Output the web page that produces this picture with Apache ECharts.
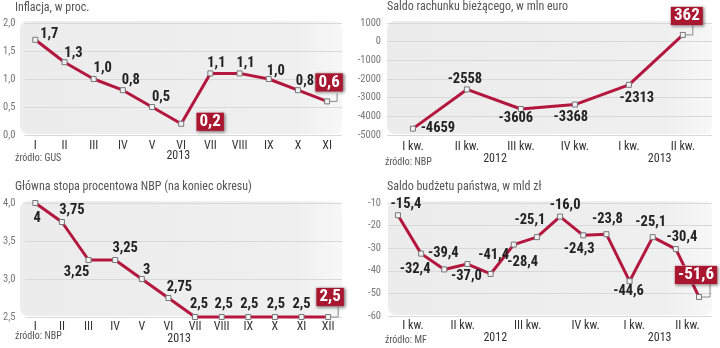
<!DOCTYPE html>
<html>
<head>
<meta charset="utf-8">
<script src="https://cdn.jsdelivr.net/npm/echarts@6/dist/echarts.min.js"></script>
<style>
html,body{margin:0;padding:0;background:#fff;}
#c{width:720px;height:348px;}
</style>
</head>
<body>
<div id="c"></div>
<script>
// ---------- DATA ----------
const inflMonths = ['I','II','III','IV','V','VI','VII','VIII','IX','X','XI'];
const inflValues = [1.7,1.3,1.0,0.8,0.5,0.2,1.1,1.1,1.0,0.8,0.6];
const inflYears = ['2013'];
const inflTicks = [0,0.5,1.0,1.5,2.0];

const caQuarters = ['I kw.','II kw.','III kw.','IV kw.','I kw.','II kw.'];
const caValues = [-4659,-2558,-3606,-3368,-2313,362];
const caYears = ['2012','2013'];
const caTicks = [-5000,-4000,-3000,-2000,-1000,0,1000];

const rateMonths = ['I','II','III','IV','V','VI','VII','VIII','IX','X','XI','XII'];
const rateValues = [4,3.75,3.25,3.25,3,2.75,2.5,2.5,2.5,2.5,2.5,2.5];
const rateYears = ['2013'];
const rateTicks = [2.5,3.0,3.5,4.0];

const budgetQuarters = ['I kw.','II kw.','III kw.','IV kw.','I kw.','II kw.'];
const budgetValues = [-15.4,-32.4,-39.4,-37.0,-41.4,-28.4,-25.1,-16.0,-24.3,-23.8,-44.6,-25.1,-30.4,-51.6];
const budgetYears = ['2012','2013'];
const budgetTicks = [-60,-50,-40,-30,-20,-10];

// ---------- LAYOUT / STYLE ----------
const FONT = "'Roboto Condensed','Open Sans Condensed','Liberation Sans',sans-serif";
const LINE = '#b3173f';
const BOX = '#a8162f';

// axis positions (in data-index units) for category-like labels
const inflLabelPos = inflMonths.map((_, i) => i);
const inflYearPos = [4.9];
const caLabelPos = caQuarters.map((_, i) => i);
const caYearPos = [1.52, 4.57];
const rateLabelPos = rateMonths.map((_, i) => i);
const rateYearPos = [5.4];
const budgetLabelPos = [0.65, 2.8, 5.6, 8.1, 10.2, 12.5];
const budgetYearPos = [4.2, 11.3];

const panels = [
  { title:'Inflacja, w proc.', src:'źródło: GUS', tl:[15,2], sl:[15,153],
    grid:{left:20, top:23, width:322, height:112}, xmin:-0.372, xmax:10.51,
    ymin:0, ymax:2, interval:0.5, yMargin:9, yFmt:v=>v.toFixed(1).replace('.',','),
    values:inflValues, labels:inflMonths, labelPos:inflLabelPos, years:inflYears, yearPos:inflYearPos,
    lblMargin:5, yearMargin:15, vFmt:v=>v.toFixed(1).replace('.',','),
    offsets:[[14,-5],[9,-9],[9,-11],[8,-10],[9,-10],[29,-2],[6,-10],[6,-10],[7,-8],[7,-9],[2,-19]],
    boxes:[5,10], leader:[10,8] },
  { title:'Saldo rachunku bieżącego, w mln euro', src:'źródło: NBP', tl:[387,1], sl:[385,157],
    grid:{left:387, top:23, width:325, height:112}, xmin:-0.48, xmax:5.54,
    ymin:-5000, ymax:1000, interval:1000, yMargin:6, yFmt:v=>String(v),
    values:caValues, labels:caQuarters, labelPos:caLabelPos, years:caYears, yearPos:caYearPos,
    lblMargin:6, yearMargin:18, vFmt:v=>String(v),
    offsets:[[25,0],[-2,-10],[-5,9],[-4,13],[8,14],[4,-19]],
    boxes:[5], leader:[10,10] },
  { title:'Główna stopa procentowa NBP (na koniec okresu)', src:'źródło: NBP', tl:[15,181], sl:[15,331],
    grid:{left:20, top:203, width:322, height:114}, xmin:-0.37, xmax:11.52,
    ymin:2.5, ymax:4, interval:0.5, yMargin:10, yFmt:v=>v.toFixed(1).replace('.',','),
    values:rateValues, labels:rateMonths, labelPos:rateLabelPos, years:rateYears, yearPos:rateYearPos,
    lblMargin:4, yearMargin:16, vFmt:v=>String(v).replace('.',','),
    offsets:[[2,15],[10,-12],[-12,12],[10,-12],[5,-9],[11,-11],[4,-13],[2,-13],[1,-13],[1,-13],[0,-13],[2,-20]],
    boxes:[11], leader:[10,10] },
  { title:'Saldo budżetu państwa, w mld zł', src:'źródło: MF', tl:[387,181], sl:[385,335],
    grid:{left:388, top:203, width:324, height:113}, xmin:-0.43, xmax:13.56,
    ymin:-60, ymax:-10, interval:10, yMargin:7, yFmt:v=>String(v),
    values:budgetValues, labels:budgetQuarters, labelPos:budgetLabelPos, years:budgetYears, yearPos:budgetYearPos,
    lblMargin:4, yearMargin:16, vFmt:v=>v.toFixed(1).replace('.',','),
    offsets:[[8,-11],[-6,16],[-1,-16],[-1,12],[3,-19],[9,18],[-7,-17],[5,-11],[-4,14],[1,-15],[-1,10],[-2,-15],[6,-12],[-3,-22]],
    boxes:[13], leader:[11,13] }
];

function lookup(posArr, names) {
  return function (v) {
    const k = posArr.findIndex(p => Math.abs(p - v) < 1e-6);
    return k >= 0 ? names[k] : '';
  };
}

const option = {
  animation: false,
  backgroundColor: '#fff',
  title: [], grid: [], xAxis: [], yAxis: [], series: [], graphic: []
};

panels.forEach((p, gi) => {
  option.title.push({ text: p.title, left: p.tl[0], top: p.tl[1], padding: 0,
    textStyle: { fontFamily: FONT, fontSize: 12, fontWeight: 'normal', color: '#555' } });
  option.title.push({ text: p.src, left: p.sl[0], top: p.sl[1], padding: 0,
    textStyle: { fontFamily: FONT, fontSize: 10, fontWeight: 'normal', color: '#555' } });

  option.graphic.push({ type: 'rect', z: -10, silent: true,
    shape: { x: p.grid.left, y: p.grid.top - 2, width: p.grid.width, height: p.grid.height + 1, r: 8 },
    style: { fill: new echarts.graphic.LinearGradient(0, 0, 1, 0, [
      { offset: 0, color: '#ececec' }, { offset: 0.85, color: '#efefef' }, { offset: 1, color: '#f7f7f7' }]) } });

  option.grid.push(Object.assign({ show: false, containLabel: false }, p.grid));

  // main x axis
  option.xAxis.push({ gridIndex: gi, type: 'value', min: p.xmin, max: p.xmax,
    axisLine: { show: false }, axisTick: { show: false }, splitLine: { show: false },
    axisLabel: { customValues: p.labelPos, formatter: lookup(p.labelPos, p.labels),
      margin: p.lblMargin, fontFamily: FONT, fontSize: 12, color: '#333', showMinLabel: true, showMaxLabel: true } });
  const mainX = option.xAxis.length - 1;
  // year axis
  option.xAxis.push({ gridIndex: gi, type: 'value', min: p.xmin, max: p.xmax, position: 'bottom',
    axisLine: { show: false }, axisTick: { show: false }, splitLine: { show: false },
    axisLabel: { customValues: p.yearPos, formatter: lookup(p.yearPos, p.years),
      margin: p.yearMargin, fontFamily: FONT, fontSize: 12, color: '#333' } });

  option.yAxis.push({ gridIndex: gi, type: 'value', min: p.ymin, max: p.ymax, interval: p.interval,
    axisLine: { show: false }, axisTick: { show: false },
    splitLine: { show: true, lineStyle: { color: '#d9d9d9', width: 1 } },
    axisLabel: { margin: p.yMargin, fontFamily: FONT, fontSize: 10.5, color: '#777', formatter: p.yFmt } });
  const yi = option.yAxis.length - 1;

  const data = p.values.map((v, i) => {
    const off = p.offsets[i];
    const isBox = p.boxes.indexOf(i) >= 0;
    const lbl = isBox ? {
      show: true, position: 'inside', offset: off, formatter: p.vFmt(v),
      color: '#fff', fontSize: 17, fontWeight: 'bold', fontFamily: FONT,
      backgroundColor: BOX, padding: [1, 3, 0, 3], borderColor: '#e6b3bd', borderWidth: 0.5,
      shadowBlur: 3, shadowColor: 'rgba(0,0,0,0.45)', shadowOffsetX: 1, shadowOffsetY: 1
    } : {
      show: true, position: 'inside', offset: off, formatter: p.vFmt(v),
      color: '#222', fontSize: 14.5, fontWeight: 'bold', fontFamily: FONT
    };
    return { value: [i, v], label: lbl };
  });

  option.series.push({ type: 'line', xAxisIndex: mainX, yAxisIndex: yi, data: data,
    lineStyle: { color: LINE, width: 3 }, symbol: 'rect', symbolSize: 5, showAllSymbol: true,
    itemStyle: { color: '#f2f2f2', borderColor: '#777', borderWidth: 1 }, z: 3, clip: false });

  // leader line from last point to its boxed label
  const last = p.values.length - 1;
  const ld = p.leader;
  option.series.push({ type: 'custom', xAxisIndex: mainX, yAxisIndex: yi, z: 2, silent: true,
    data: [[last, p.values[last]]],
    renderItem: function (params, api) {
      const pt = api.coord([api.value(0), api.value(1)]);
      return { type: 'polyline', shape: { points: [[pt[0] + 3, pt[1]], [pt[0] + ld[0], pt[1]], [pt[0] + ld[0], pt[1] - ld[1]]] },
        style: { stroke: '#8a8a8a', fill: null, lineWidth: 1 } };
    } });
});

const chart = echarts.init(document.getElementById('c'), null, { renderer: 'canvas' });
chart.setOption(option);
</script>
</body>
</html>
